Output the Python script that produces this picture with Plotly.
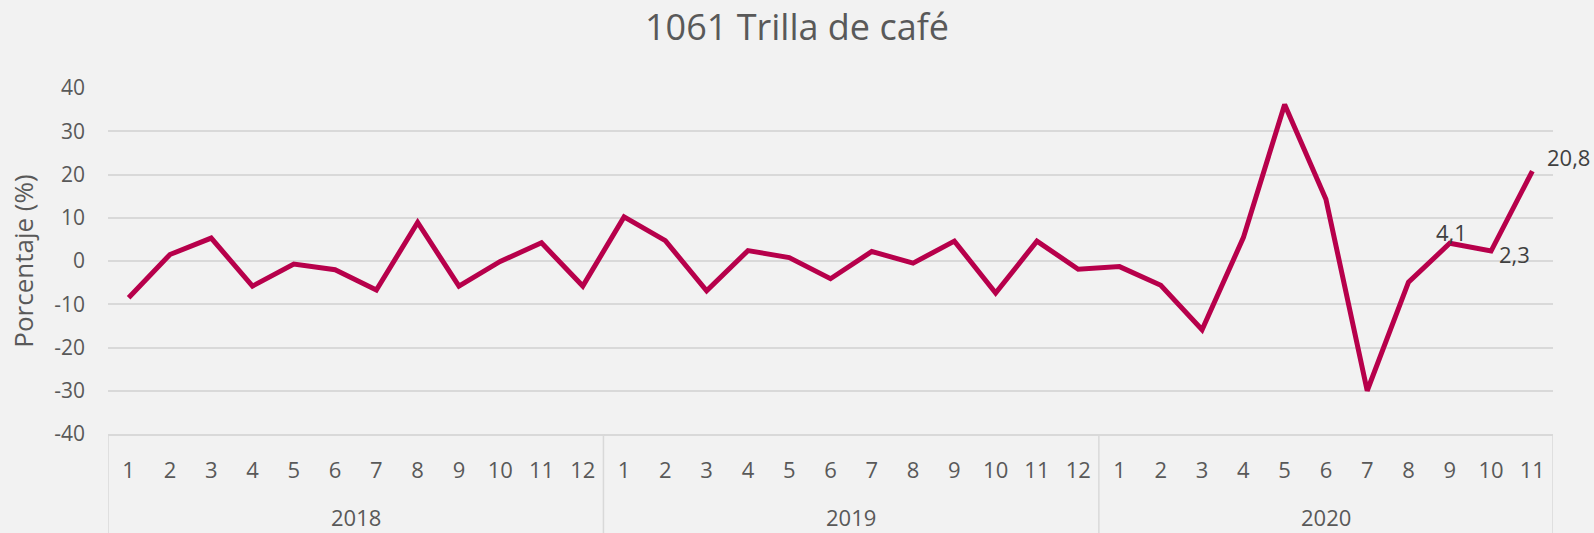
import plotly.graph_objects as go

years = ["2018"] * 12 + ["2019"] * 12 + ["2020"] * 11
months = [str(m) for m in range(1, 13)] * 2 + [str(m) for m in range(1, 12)]

values = [
    -8.5, 1.5, 5.3, -5.8, -0.7, -2.0, -6.7, 8.9, -5.8, -0.1, 4.2, -5.8,
    10.2, 4.7, -6.9, 2.4, 0.8, -4.1, 2.2, -0.5, 4.6, -7.4, 4.6, -1.9,
    -1.3, -5.6, -15.9, 5.4, 36.2, 14.3, -30.0, -4.9, 4.1, 2.3, 20.8,
]

# data labels shown on the last three points
labels = [""] * 32 + ["4,1", "2,3", "20,8"]

y_tickvals = [-40, -30, -20, -10, 0, 10, 20, 30, 40]
y_ticktext = ["-40", "-30", "-20", "-10", "0", "10", "20", "30", "40"]

title = "1061 Trilla de café"
y_title = "Porcentaje (%)"

FONT = "Open Sans"
GREY = "#595959"
GRID = "#D9D9D9"
W, H = 1594, 533
M_L, M_R, M_T, M_B = 108, 41, 88, 99
plot_h = H - M_T - M_B

# unique category keys built from the year / month arrays
x_keys = [f"{y}-{m}" for y, m in zip(years, months)]

# year groups (start index, end index) derived from the data
groups = []
for i, y in enumerate(years):
    if not groups or groups[-1][0] != y:
        groups.append([y, i, i])
    else:
        groups[-1][2] = i

fig = go.Figure(
    go.Scatter(
        x=x_keys,
        y=values,
        mode="lines",
        line=dict(color="#B7004B", width=5),
        cliponaxis=False,
        hoverinfo="y",
    )
)

y_bottom = -(H - M_T - plot_h) / plot_h  # paper y at bottom edge of page
y_year = -(517 - (M_T + plot_h)) / plot_h

shapes = []
annotations = []
for name, s, e in groups:
    shapes.append(dict(type="line", xref="x", yref="paper", x0=s - 0.5, x1=s - 0.5,
                       y0=0, y1=y_bottom, line=dict(color=GRID, width=1.5)))
    annotations.append(dict(text=name, xref="x", yref="paper", x=(s + e) / 2, y=y_year,
                            xanchor="center", yanchor="middle", showarrow=False,
                            font=dict(family=FONT, size=22, color=GREY)))
last_end = groups[-1][2]
shapes.append(dict(type="line", xref="x", yref="paper", x0=last_end + 0.5, x1=last_end + 0.5,
                   y0=0, y1=y_bottom, line=dict(color=GRID, width=1.5)))

# label placement styles (offsets in pixels relative to the data point)
label_style = {
    "4,1": dict(xanchor="center", xshift=2, yshift=11),
    "2,3": dict(xanchor="left", xshift=6, yshift=-3),
    "20,8": dict(xanchor="left", xshift=13, yshift=14),
}
for xk, v, lab in zip(x_keys, values, labels):
    if lab:
        st = label_style[lab]
        annotations.append(dict(text=lab, xref="x", yref="y", x=xk, y=v,
                                xanchor=st["xanchor"], yanchor="middle",
                                xshift=st["xshift"], yshift=st["yshift"],
                                showarrow=False,
                                font=dict(family=FONT, size=22, color="#404040")))

fig.update_layout(
    width=W,
    height=H,
    paper_bgcolor="#F2F2F2",
    plot_bgcolor="#F2F2F2",
    margin=dict(l=M_L, r=M_R, t=M_T, b=M_B),
    showlegend=False,
    title=dict(
        text=title,
        x=0.5,
        xanchor="center",
        y=1 - 27 / H,
        yanchor="middle",
        font=dict(family=FONT, size=36, color=GREY),
    ),
    font=dict(family=FONT, color=GREY),
    shapes=shapes,
    annotations=annotations,
)

fig.update_yaxes(
    range=[-40, 40],
    tickvals=y_tickvals,
    ticktext=y_ticktext,
    showgrid=True,
    gridcolor=GRID,
    gridwidth=1.5,
    zeroline=False,
    showline=False,
    tickfont=dict(family=FONT, size=21, color=GREY),
    ticks="",
    ticklabelstandoff=22,
    title=dict(text=y_title, font=dict(family=FONT, size=26, color=GREY), standoff=13),
)

fig.update_xaxes(
    type="category",
    range=[-0.5, len(x_keys) - 0.5],
    tickvals=x_keys,
    ticktext=months,
    showgrid=False,
    showline=True,
    linecolor=GRID,
    linewidth=1.5,
    tickfont=dict(family=FONT, size=22, color=GREY),
    ticks="",
    ticklabelstandoff=16,
)

fig.write_html(
    "out.html",
    config={"displayModeBar": False},
    post_script="document.body.style.margin='0';document.body.style.overflow='hidden';"
                "document.body.style.background='#F2F2F2';",
)
